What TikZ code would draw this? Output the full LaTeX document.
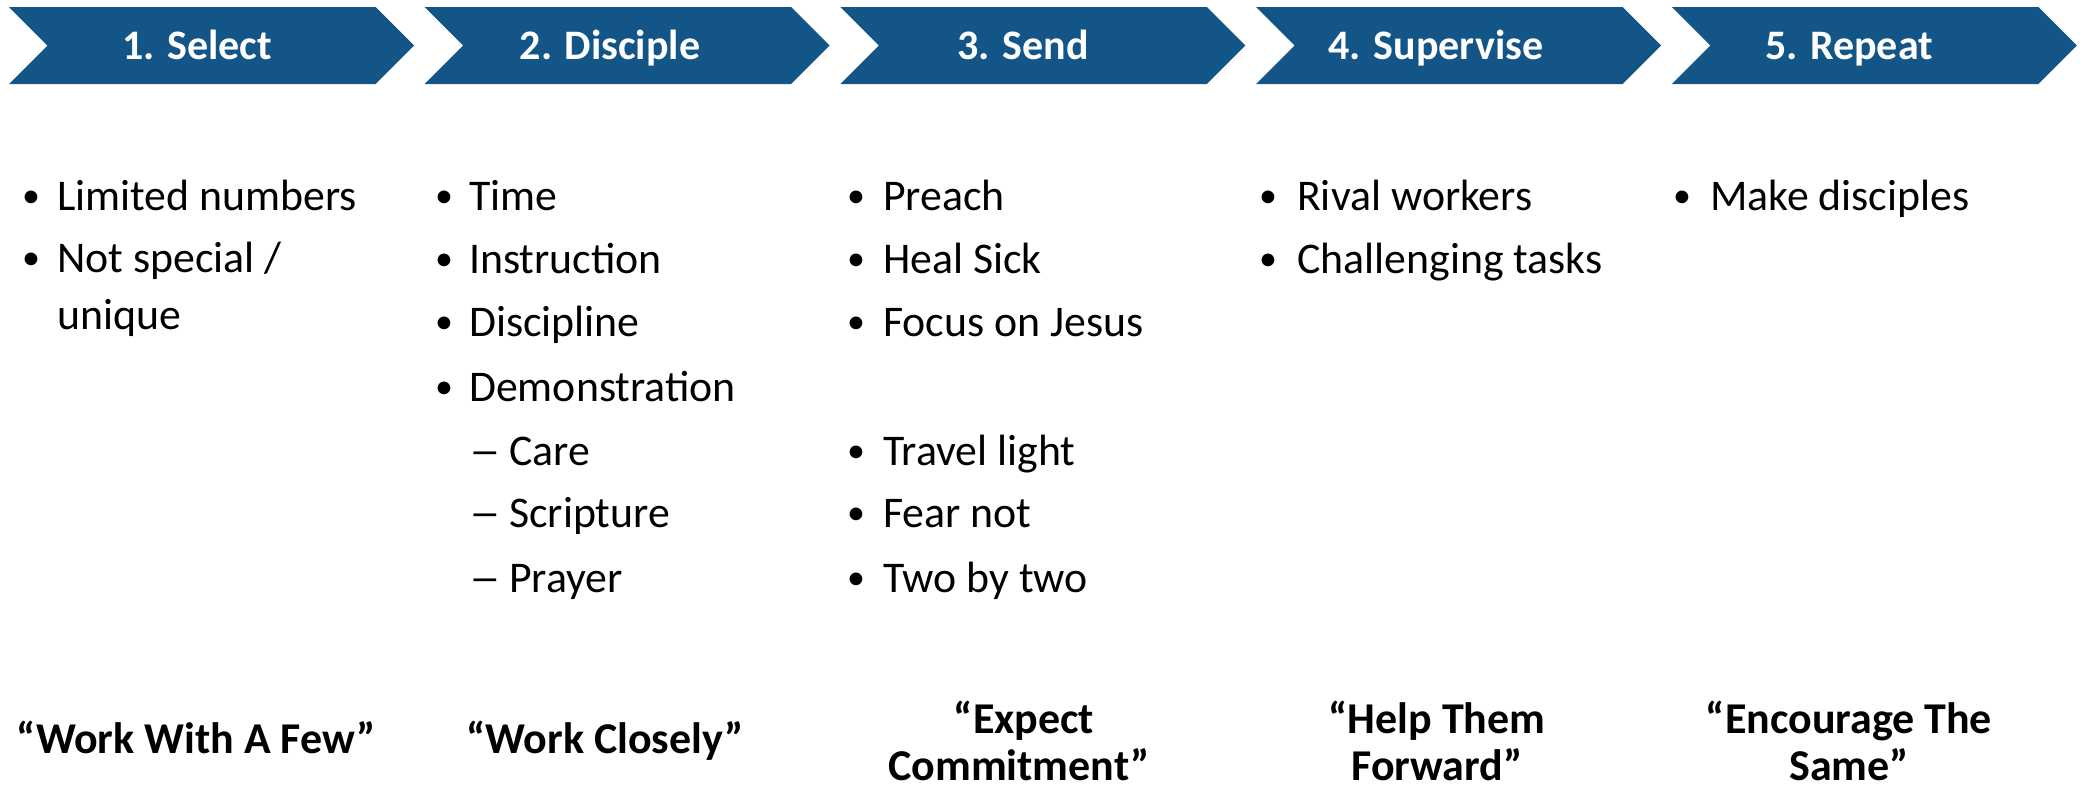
\documentclass[tikz,border=0pt]{standalone}
\usepackage{fontspec}
\usepackage{graphicx}
\setmainfont{Carlito}
\definecolor{chev}{RGB}{20,85,136}
\begin{document}
\begin{tikzpicture}[x=1pt,y=-1pt,
  txt/.style={anchor=base west,inner sep=0pt,font=\fontsize{43.8}{50}\selectfont},
  bul/.style={anchor=base west,inner sep=0pt,font=\fontsize{36}{50}\selectfont},
  dsh/.style={anchor=base west,inner sep=0pt,font=\fontsize{43.8}{50}\selectfont},
  head/.style={anchor=base,inner sep=0pt,text=white,font=\fontsize{42}{50}\selectfont\bfseries},
  quote/.style={anchor=base,inner sep=0pt,font=\fontsize{44}{50}\selectfont\bfseries}]
\useasboundingbox (0,0) rectangle (2083,788);
\foreach \i/\t in {0/1. Select,1/2. Disciple,2/3. Send,3/4. Supervise,4/5. Repeat}{
  \pgfmathsetmacro\L{9+415.7*\i}
  \fill[chev] (\L,7) -- ++(366.5,0) -- ++(38.5,38.5) -- ++(-38.5,38.5) -- ++(-366.5,0) -- ++(38.5,-38.5) -- cycle;
  \node[head] (h\i) at ({197+413*\i},59) {\t};
}
% column 1
\node[bul] (b11) at (22,207) {•}; \node[txt] (t11) at (57,210) {Limited numbers};
\node[bul] (b12) at (22,269) {•}; \node[txt] (t12) at (57,272) {Not special /};
\node[txt] (t13) at (57,329) {unique};
% column 2
\node[bul] (b21) at (435,207) {•}; \node[txt] (t21) at (469,210) {Time};
\node[bul] (b22) at (435,270) {•}; \node[txt] (t22) at (469,273) {Instruction};
\node[bul] (b23) at (435,333) {•}; \node[txt] (t23) at (469,336) {Discipline};
\node[bul] (b24) at (435,398) {•}; \node[txt] (t24) at (469,401) {Demonstration};
\node[dsh] (d25) at (469,465) {\scalebox{1.45}[1]{–}}; \node[txt] (t25) at (509,465) {Care};
\node[dsh] (d26) at (469,527) {\scalebox{1.45}[1]{–}}; \node[txt] (t26) at (509,527) {Scripture};
\node[dsh] (d27) at (469,592) {\scalebox{1.45}[1]{–}}; \node[txt] (t27) at (509,592) {Prayer};
% column 3
\node[bul] (b31) at (847,207) {•}; \node[txt] (t31) at (883,210) {Preach};
\node[bul] (b32) at (847,270) {•}; \node[txt] (t32) at (883,273) {Heal Sick};
\node[bul] (b33) at (847,333) {•}; \node[txt] (t33) at (883,336) {Focus on Jesus};
\node[bul] (b34) at (847,462) {•}; \node[txt] (t34) at (883,465) {Travel light};
\node[bul] (b35) at (847,524) {•}; \node[txt] (t35) at (883,527) {Fear not};
\node[bul] (b36) at (847,589) {•}; \node[txt] (t36) at (883,592) {Two by two};
% column 4
\node[bul] (b41) at (1259,207) {•}; \node[txt] (t41) at (1297,210) {Rival workers};
\node[bul] (b42) at (1259,270) {•}; \node[txt] (t42) at (1297,273) {Challenging tasks};
% column 5
\node[bul] (b51) at (1673,207) {•}; \node[txt] (t51) at (1710,210) {Make disciples};
% quotes
\node[quote] (q1) at (196,753) {“Work With A Few”};
\node[quote] (q2) at (605,753) {“Work Closely”};
\node[quote] (q3a) at (1024,733) {“Expect};
\node[quote] (q3b) at (1019,780) {Commitment”};
\node[quote] (q4a) at (1437,733) {“Help Them};
\node[quote] (q4b) at (1437,780) {Forward”};
\node[quote] (q5a) at (1849,733) {“Encourage The};
\node[quote] (q5b) at (1849,780) {Same”};
\end{tikzpicture}
\end{document}
